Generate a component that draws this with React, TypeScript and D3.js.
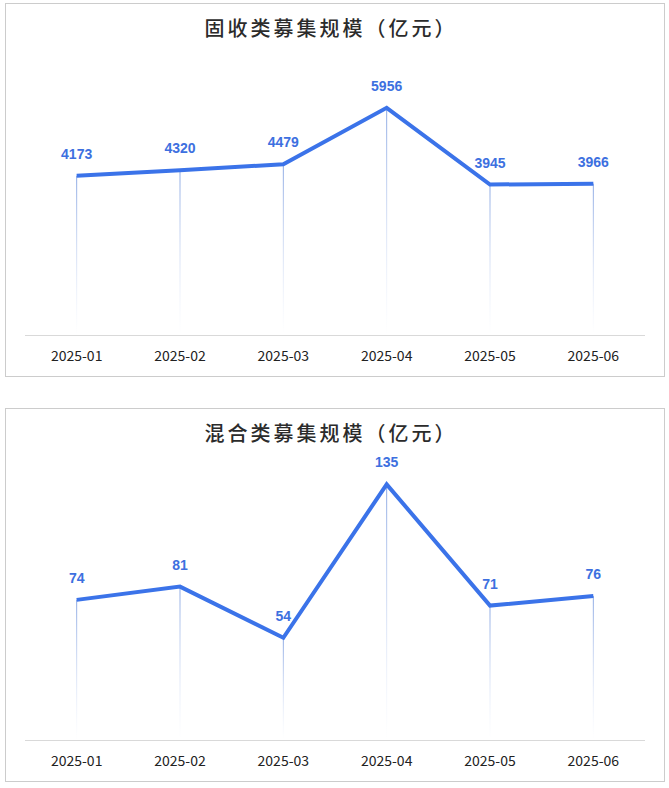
import React, { useEffect, useRef } from "react";
import * as d3 from "d3";

const months = ["2025-01", "2025-02", "2025-03", "2025-04", "2025-05", "2025-06"];
const fixedIncome = [4173, 4320, 4479, 5956, 3945, 3966];
const mixed = [74, 81, 54, 135, 71, 76];
const fixedIncomeMax = 7000;
const mixedMax = 141;

const panels = [
  { id: "fi", title: "固收类募集规模（亿元）", values: fixedIncome, yMax: fixedIncomeMax, top: 3 },
  { id: "mx", title: "混合类募集规模（亿元）", values: mixed, yMax: mixedMax, top: 408 },
];

const W = 669;
const H = 788;
const panelW = 659;
const panelH = 373;
const lineColor = "#3b73e9";

const App: React.FC = () => {
  const svgRef = useRef<SVGSVGElement>(null);

  useEffect(() => {
    if (!svgRef.current) return;
    const svg = d3.select(svgRef.current);
    svg.selectAll("*").remove();

    const defs = svg.append("defs");
    const grad = defs
      .append("linearGradient")
      .attr("id", "dropGrad")
      .attr("x1", 0)
      .attr("y1", 0)
      .attr("x2", 0)
      .attr("y2", 1);
    grad.append("stop").attr("offset", "0%").attr("stop-color", "#7f9fe0").attr("stop-opacity", 0.9);
    grad.append("stop").attr("offset", "100%").attr("stop-color", "#c9d6f2").attr("stop-opacity", 0);

    const x = d3.scaleBand<string>().domain(months).range([25, 645]);

    panels.forEach((p) => {
      const g = svg.append("g").attr("transform", `translate(0,${p.top})`);

      // panel frame
      g.append("rect")
        .attr("x", 5.5)
        .attr("y", 0.5)
        .attr("width", panelW)
        .attr("height", panelH)
        .attr("fill", "#fff")
        .attr("stroke", "#cccccc");

      // title
      g.append("text")
        .attr("x", 331)
        .attr("y", 33)
        .attr("text-anchor", "middle")
        .attr("fill", "#2b2b2b")
        .style("font-family", "'Noto Sans CJK SC', sans-serif")
        .style("font-size", "20px")
        .style("font-weight", 500)
        .style("letter-spacing", "3px")
        .text(p.title);

      const axisY = 332;
      const y = d3.scaleLinear().domain([0, p.yMax]).range([axisY, axisY - 267]);
      const cx = (m: string) => (x(m) ?? 0) + x.bandwidth() / 2;

      // drop lines with fading gradient
      g.selectAll("rect.drop")
        .data(p.values)
        .enter()
        .append("rect")
        .attr("class", "drop")
        .attr("x", (_, i) => cx(months[i]) - 0.5)
        .attr("y", (d) => y(d))
        .attr("width", 1)
        .attr("height", (d) => axisY - y(d))
        .attr("fill", "url(#dropGrad)");

      // axis line
      g.append("line")
        .attr("x1", 25)
        .attr("x2", 645)
        .attr("y1", axisY + 0.5)
        .attr("y2", axisY + 0.5)
        .attr("stroke", "#d9d9d9");

      // category labels
      g.selectAll("text.cat")
        .data(months)
        .enter()
        .append("text")
        .attr("class", "cat")
        .attr("x", (d) => cx(d))
        .attr("y", axisY + 26)
        .attr("text-anchor", "middle")
        .attr("fill", "#222")
        .style("font-family", "'Noto Sans CJK SC', sans-serif")
        .style("font-size", "14px")
        .text((d) => d);

      const line = d3
        .line<number>()
        .x((_, i) => cx(months[i]))
        .y((d) => y(d));

      g.append("path")
        .datum(p.values)
        .attr("d", line)
        .attr("fill", "none")
        .attr("stroke", lineColor)
        .attr("stroke-width", 4)
        .attr("stroke-linejoin", "miter");

      // value labels
      g.selectAll("text.val")
        .data(p.values)
        .enter()
        .append("text")
        .attr("class", "val")
        .attr("x", (_, i) => cx(months[i]))
        .attr("y", (d) => y(d) - 17)
        .attr("text-anchor", "middle")
        .attr("fill", "#3d70e0")
        .style("font-family", "'Liberation Sans', Arial, sans-serif")
        .style("font-size", "14px")
        .style("font-weight", "bold")
        .text((d) => String(d));
    });
  }, []);

  return (
    <svg
      ref={svgRef}
      width={W}
      height={H}
      style={{ position: "absolute", left: 0, top: 0, background: "#fff" }}
    />
  );
};

export default App;
